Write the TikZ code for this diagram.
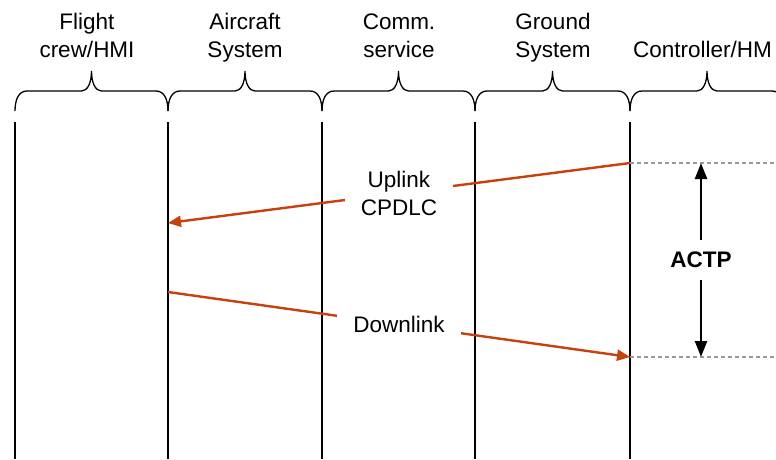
\documentclass[tikz,border=0pt]{standalone}
\usepackage{fontspec}
\setmainfont{Liberation Sans}
\usetikzlibrary{arrows.meta}
\definecolor{ink}{HTML}{000000}
\definecolor{msg}{HTML}{C8400C}
\definecolor{guide}{HTML}{9A9A9A}

\begin{document}
\begin{tikzpicture}[x=1pt,y=-1pt,font=\fontsize{22.5}{28}\selectfont,text=ink,
  lifeline/.style={ink,line width=2.8pt},
  brace/.style={ink,line width=1.3pt},
  msgline/.style={msg,line width=2.4pt,-{Triangle[length=13pt,width=11pt]}},
  msglabel/.style={fill=white,text=ink,align=center,inner xsep=16pt,inner ysep=2pt},
  guideline/.style={guide,line width=1.1pt,dash pattern=on 4pt off 3pt},
  hdr/.style={align=center,anchor=base,inner sep=0pt}]
  \useasboundingbox (0,0) rectangle (776,459);

  % column headings
  \node[hdr] (hdr1) at (87,57) {Flight\\crew/HMI};
  \node[hdr] (hdr2) at (245,57) {Aircraft\\System};
  \node[hdr] (hdr3) at (399,57) {Comm.\\service};
  \node[hdr] (hdr4) at (553,57) {Ground\\System};
  \node[hdr,anchor=base west] (hdr5) at (633,57) {Controller/HM};

  % braces over the columns
  \foreach \xa/\xb in {15/168,168/322,322/475,475/630,630/784}{
    \pgfmathsetmacro{\xm}{(\xa+\xb)/2}
    \draw[brace] (\xa,111) .. controls (\xa,99) and (\xa+4,91) .. (\xa+12,91)
      -- (\xm-10,91) .. controls (\xm-4,91) and (\xm,83) .. (\xm,71)
      .. controls (\xm,83) and (\xm+4,91) .. (\xm+10,91)
      -- (\xb-12,91) .. controls (\xb-4,91) and (\xb,99) .. (\xb,111);
  }

  % lifelines
  \foreach \i/\x in {1/15,2/168,3/322,4/475}{
    \coordinate (top\i) at (\x,122);
    \coordinate (bot\i) at (\x,459);
    \draw[lifeline] (top\i) -- (bot\i);
  }
  \coordinate (top5) at (630,122);
  \coordinate (bot5) at (630,459);
  \draw[lifeline,line width=1.8pt] (top5) -- (bot5);

  % messages
  \coordinate (upS) at (630,163);
  \coordinate (upE) at (168,223);
  \coordinate (dnS) at (168,292);
  \coordinate (dnE) at (630,357);
  \draw[msgline] (upS) -- node[msglabel] (uplink) {Uplink\\CPDLC} (upE);
  \draw[msgline] (dnS) -- node[msglabel] (downlink) {Downlink} (dnE);

  % ACTP span
  \coordinate (g1) at (776,163);
  \coordinate (g2) at (776,357);
  \draw[guideline] (upS) -- (g1);
  \draw[guideline] (dnE) -- (g2);
  \coordinate (actpT) at (701,163);
  \coordinate (actpB) at (701,357);
  \draw[ink,line width=2.4pt,{Triangle[length=16pt,width=12pt]}-{Triangle[length=16pt,width=12pt]}]
    (actpT) -- node[fill=white,font=\fontsize{22.5}{28}\selectfont\bfseries,
      inner xsep=2pt,inner ysep=12pt] (actp) {ACTP} (actpB);
\end{tikzpicture}
\end{document}
